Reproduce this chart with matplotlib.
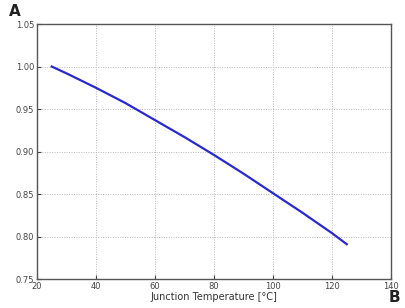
import numpy as np
import matplotlib
matplotlib.use('Agg')
import matplotlib.pyplot as plt

# values
temp = [25, 30, 40, 50, 60, 70, 80, 90, 100, 110, 120, 125]
rel = [1.000, 0.992, 0.975, 0.957, 0.937, 0.917, 0.896, 0.874, 0.851, 0.828, 0.804, 0.791]

xticks = [20, 40, 60, 80, 100, 120, 140]
yticks = [0.75, 0.80, 0.85, 0.90, 0.95, 1.00, 1.05]

fig = plt.figure(figsize=(4.06, 3.08), dpi=100)
ax = fig.add_axes([0.091, 0.094, 0.872, 0.828])

ax.plot(temp, rel, color='#2828d4', lw=1.6)

ax.set_xlim(20, 140)
ax.set_ylim(0.75, 1.05)
ax.set_xticks(xticks)
ax.set_yticks(yticks)
ax.set_yticklabels(['%.2f' % v for v in yticks])
ax.grid(True, ls=(0, (1, 1.5)), color='#b8b8b8', lw=0.7)
ax.tick_params(direction='in', labelsize=6, colors='#444444', length=3, pad=2)
for s in ax.spines.values():
    s.set_color('#555555')
    s.set_linewidth(1.0)

ax.set_xlabel('Junction Temperature [°C]', fontsize=7, color='#333333', labelpad=1)

fig.text(0.022, 0.948, 'A', fontsize=11, fontweight='bold', color='#222222')
fig.text(0.958, 0.018, 'B', fontsize=11, fontweight='bold', color='#222222')

fig.savefig('out.png', dpi=100)
